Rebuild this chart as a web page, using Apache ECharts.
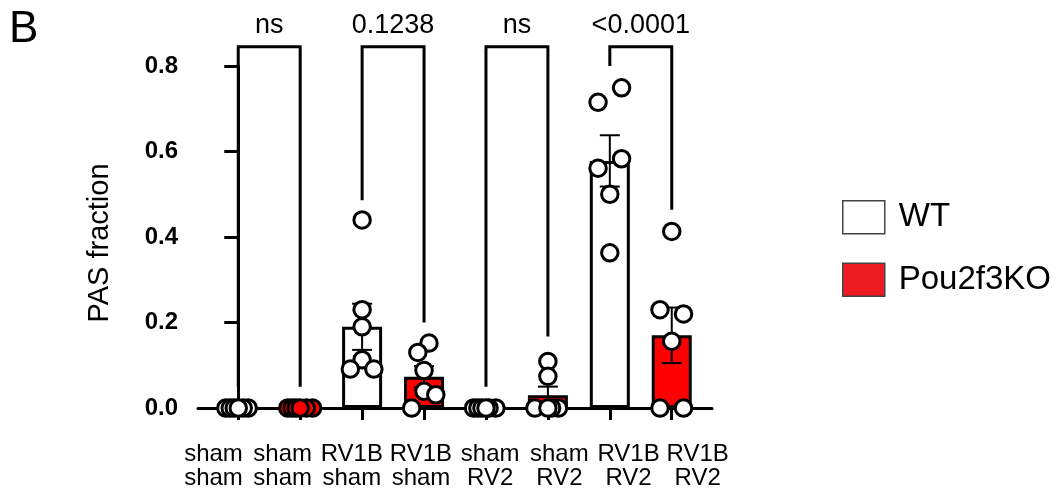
<!DOCTYPE html>
<html>
<head>
<meta charset="utf-8">
<script src="https://cdn.jsdelivr.net/npm/echarts@6/dist/echarts.min.js"></script>
<style>
html,body{margin:0;padding:0;background:#fff;}
#chart{width:1060px;height:492px;}
</style>
</head>
<body>
<div id="chart"></div>
<script>
// ---- data ----
const categories = ['sham\nsham','sham\nsham','RV1B\nsham','RV1B\nsham','sham\nRV2','sham\nRV2','RV1B\nRV2','RV1B\nRV2'];
const groupGenotype = ['WT','Pou2f3KO','WT','Pou2f3KO','WT','Pou2f3KO','WT','Pou2f3KO'];
const means = [0, 0, 0.19, 0.073, 0, 0.03, 0.578, 0.17];
const sems  = [0, 0, 0.054, 0.025, 0, 0.02, 0.06, 0.065];
const pointValues = [
  [0, 0, 0, 0, 0, 0],
  [0, 0, 0, 0, 0, 0],
  [0.44, 0.23, 0.19, 0.113, 0.091, 0.091],
  [0.152, 0.13, 0.088, 0.039, 0.031, 0],
  [0, 0, 0, 0, 0, 0],
  [0.109, 0.074, 0, 0, 0, 0],
  [0.715, 0.749, 0.583, 0.561, 0.5, 0.363],
  [0.23, 0.22, 0.413, 0.156, 0, 0]
];
// horizontal scatter of the points, in category units
const pointOffsets = [
  [-0.2, -0.13, -0.065, 0.16, 0.08, 0],
  [-0.2, -0.13, -0.065, 0.2, 0.1, 0],
  [0, 0, 0, 0, -0.19, 0.19],
  [0.08, -0.1, 0, 0, 0.19, -0.2],
  [-0.2, -0.13, -0.065, 0.16, 0.05, 0],
  [0, 0, -0.21, 0.17, 0.06, 0],
  [-0.19, 0.19, 0.19, -0.19, 0, 0],
  [-0.19, 0.19, 0, 0, -0.19, 0.19]
];
const yTicks = [0, 0.2, 0.4, 0.6, 0.8];
const bracketPairs = [[0, 1], [2, 3], [4, 5], [6, 7]];
const bracketTop = 0.845;
const bracketLeftEnd = [0.05, 0.486, 0.05, 0.8];
const bracketRightEnd = [0.05, 0.2, 0.1675, 0.464];
const pLabels = ['ns', '0.1238', 'ns', '<0.0001'];

// ---- layout constants (label row is spread wider than the ticks) ----
const LABEL_SPREAD = 1.117;
const LABEL_SHIFT = -0.40;

// ---- chart ----
const FONT = 'Liberation Sans, Arial, Helvetica, sans-serif';
const RED = '#ff0000';
const chart = echarts.init(document.getElementById('chart'), null, {renderer: 'canvas'});
const idx = categories.map((_, i) => i);
const labelPos = idx.map(i => LABEL_SHIFT + i * LABEL_SPREAD);

const barData = name => idx.filter(i => groupGenotype[i] === name).map(i => [i, means[i]]);

const pointData = [];
pointValues.forEach((vals, g) => {
  vals.forEach((v, k) => {
    const fill = (g === 1) ? RED : '#ffffff';
    pointData.push({value: [g + pointOffsets[g][k], v], itemStyle: {color: fill}});
  });
});

const errData = idx.filter(i => sems[i] > 0).map(i => [i, means[i], sems[i]]);

const series = [
  {
    name: 'WT', type: 'bar', data: barData('WT'), barWidth: 40, barGap: '-100%',
    itemStyle: {color: '#ffffff', borderColor: '#000', borderWidth: 3}, z: 2
  },
  {
    name: 'Pou2f3KO', type: 'bar', data: barData('Pou2f3KO'), barWidth: 40, barGap: '-100%',
    itemStyle: {color: RED, borderColor: '#000', borderWidth: 3}, z: 2
  },
  {
    name: 'err', type: 'custom', z: 3, data: errData,
    renderItem: function (params, api) {
      const x = api.value(0), m = api.value(1), s = api.value(2);
      const top = api.coord([x, m + s]);
      const bot = api.coord([x, m - s]);
      const w = 10;
      const st = {stroke: '#000', lineWidth: 2};
      return {type: 'group', children: [
        {type: 'line', shape: {x1: top[0], y1: top[1], x2: bot[0], y2: bot[1]}, style: st},
        {type: 'line', shape: {x1: top[0] - w, y1: top[1], x2: top[0] + w, y2: top[1]}, style: st},
        {type: 'line', shape: {x1: bot[0] - w, y1: bot[1], x2: bot[0] + w, y2: bot[1]}, style: st}
      ]};
    }
  },
  {
    name: 'points', type: 'scatter', z: 4, data: pointData, symbol: 'circle', symbolSize: 16.5,
    itemStyle: {borderColor: '#000', borderWidth: 3, opacity: 1}, clip: false
  }
];

bracketPairs.forEach((p, b) => {
  series.push({
    name: 'bracket' + b, type: 'line', z: 5, clip: false, symbol: 'none', silent: true,
    lineStyle: {color: '#000', width: 3, cap: 'butt', join: 'miter'},
    data: [[p[0], bracketLeftEnd[b]], [p[0], bracketTop], [p[1], bracketTop], [p[1], bracketRightEnd[b]]]
  });
});
series.push({
  name: 'plabels', type: 'scatter', z: 5, clip: false, symbolSize: 0, silent: true,
  itemStyle: {opacity: 1},
  data: bracketPairs.map((p, b) => ({value: [(p[0] + p[1]) / 2, bracketTop], label: {formatter: pLabels[b]}})),
  label: {show: true, position: 'top', distance: 8, color: '#000', fontSize: 27, fontFamily: FONT}
});

const option = {
  animation: false,
  backgroundColor: '#fff',
  textStyle: {fontFamily: FONT},
  graphic: [{type: 'text', left: 9, top: 8, style: {text: 'B', fontSize: 44, fontFamily: FONT, fill: '#000'}}],
  grid: {left: 198, right: 348, top: 66, bottom: 84, containLabel: false},
  legend: {
    orient: 'vertical', left: 842, top: 200, padding: 0, itemWidth: 42, itemHeight: 33, itemGap: 28,
    selectedMode: false,
    textStyle: {fontSize: 33, color: '#000', fontFamily: FONT, padding: [0, 0, 0, 9]},
    data: [
      {name: 'WT', icon: 'rect', itemStyle: {color: '#ffffff', borderColor: '#444', borderWidth: 1.5}},
      {name: 'Pou2f3KO', icon: 'rect', itemStyle: {color: '#ed1c24', borderColor: '#444', borderWidth: 1.5}}
    ]
  },
  xAxis: {
    type: 'value', min: -0.65, max: 7.65,
    axisLine: {show: true, onZero: false, lineStyle: {color: '#000', width: 3}},
    axisTick: {show: true, length: 12, customValues: idx, lineStyle: {color: '#000', width: 3}},
    axisLabel: {
      show: true, customValues: labelPos, margin: 34, color: '#000', fontSize: 24, lineHeight: 24,
      fontFamily: FONT, formatter: v => categories[Math.round((v - LABEL_SHIFT) / LABEL_SPREAD)]
    },
    splitLine: {show: false}
  },
  yAxis: {
    type: 'value', min: 0, max: 0.8, interval: 0.2,
    name: 'PAS fraction', nameLocation: 'middle', nameGap: 84, nameRotate: 90,
    nameTextStyle: {fontSize: 29, color: '#000', fontFamily: FONT, padding: [0, 12, 0, 0]},
    axisLine: {show: true, lineStyle: {color: '#000', width: 3}},
    axisTick: {show: true, length: 14, lineStyle: {color: '#000', width: 3}},
    axisLabel: {
      color: '#000', fontSize: 24, fontWeight: 'bold', margin: 20, fontFamily: FONT,
      formatter: v => (yTicks.some(t => Math.abs(t - v) < 1e-9) ? v.toFixed(1) : '')
    },
    splitLine: {show: false}
  },
  series: series
};
chart.setOption(option);
</script>
</body>
</html>
